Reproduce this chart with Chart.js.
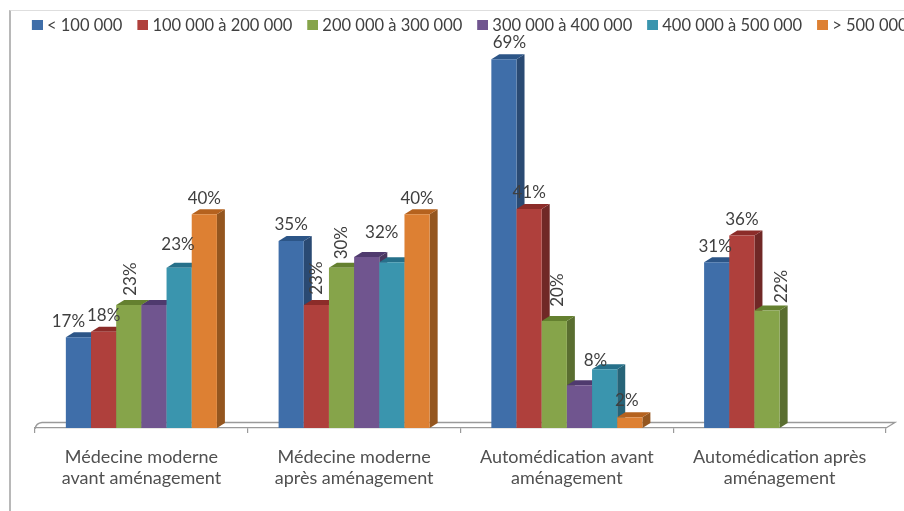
<!DOCTYPE html>
<html lang="fr">
<head>
<meta charset="utf-8">
<script src="https://cdn.jsdelivr.net/npm/chart.js@4/dist/chart.umd.min.js"></script>
<style>
html,body{margin:0;padding:0;background:#fff;width:904px;height:511px;overflow:hidden}
#wrap{position:relative;width:904px;height:511px;overflow:hidden}
#frame{position:absolute;left:9px;top:10px;right:0;bottom:0;border-left:2.5px solid #b8b8b8;border-top:1px solid #dedede}
canvas{position:absolute;left:0;top:0;filter:blur(0.4px)}
</style>
</head>
<body>
<div id="wrap">
<div id="frame"></div>
<canvas id="c" width="1000" height="511" style="width:1000px;height:511px"></canvas>
</div>
<script>
const categories = [
  ['Médecine moderne','avant aménagement'],
  ['Médecine moderne','après aménagement'],
  ['Automédication avant','aménagement'],
  ['Automédication après','aménagement']
];
const seriesNames = ['< 100 000','100 000 à 200 000','200 000 à 300 000','300 000 à 400 000','400 000 à 500 000','> 500 000'];
const under100   = [17,35,69,31];
const from100    = [18,23,41,36];
const from200    = [23,30,20,22];
const from300    = [23,32,8,null];
const from400    = [30,31,11,null];
const over500    = [40,40,2,null];
const seriesValues = [under100,from100,from200,from300,from400,over500];
const labelled = [true,true,true,true,false,true];

const frontColors = ['#3F6EA9','#AF403C','#86A44A','#70558F','#3A95AE','#DD8033'];
const topColors   = ['#2C5587','#8C2C29','#64802F','#4F3A6E','#26708A','#B5621E'];
const sideColors  = ['#2A4A73','#702826','#5A6E30','#4A385F','#276478','#94561F'];

// label placement relative to bar centre / top: [dx, dy, rotated]
const labelPlacement = [
  [[-10,-16,0],[0,-16,0],[5.5,-17,0],[-1.5,-16,0]],
  [[0,-16,0],[0,-27,1],[0,-16,0],[0,-16,0]],
  [[1.5,-26,1],[0,-25,1],[3.5,-31,1],[14.5,-24,1]],
  [[24,-61,0],[15,-24,0],[16,-25,0],null],
  [null,null,null,null],
  [[0,-16,0],[0,-16,0],[-3,-17,0],null]
];

const FONT = 'Lato, "Open Sans", sans-serif';
const DX = 8, DY = 5;

function swatch(color){
  const s = document.createElement('canvas');
  s.width = 15; s.height = 10;
  const g = s.getContext('2d');
  g.fillStyle = color; g.fillRect(4,0,11,10);
  return s;
}

const bars3d = {
  id:'bars3d',
  beforeDatasetsDraw(chart){
    const ctx = chart.ctx, x = chart.scales.x, base = chart.scales.y.getPixelForValue(0);
    ctx.save();
    ctx.strokeStyle = '#9a9a9a'; ctx.lineWidth = 1.3;
    ctx.beginPath();
    ctx.moveTo(x.left, base+1);
    ctx.quadraticCurveTo(x.left+1, base-5, x.left+7, base-5.5);
    ctx.lineTo(x.right+9, base-5.5);
    ctx.lineTo(x.right, base);
    ctx.stroke();
    chart.data.datasets.forEach((ds,i)=>{
      chart.getDatasetMeta(i).data.forEach((el,j)=>{
        if (ds.data[j]==null) return;
        const p = el.getProps(['x','y','width','base'],true);
        const l = p.x-p.width/2, r = p.x+p.width/2, t = p.y, b = p.base;
        ctx.fillStyle = sideColors[i];
        ctx.beginPath();
        ctx.moveTo(r,t); ctx.lineTo(r+DX,t-DY); ctx.lineTo(r+DX,b-DY); ctx.lineTo(r,b);
        ctx.closePath(); ctx.fill();
        ctx.fillStyle = topColors[i];
        ctx.beginPath();
        ctx.moveTo(l,t); ctx.lineTo(l+DX,t-DY); ctx.lineTo(r+DX,t-DY); ctx.lineTo(r,t);
        ctx.closePath(); ctx.fill();
        el.draw(ctx);
      });
    });
    ctx.restore();
  },
  beforeDatasetDraw(){ return false; },
  afterDatasetsDraw(chart){
    const ctx = chart.ctx;
    ctx.save();
    ctx.font = '17px '+FONT;
    ctx.fillStyle = '#3f3f3f';
    ctx.textAlign = 'center'; ctx.textBaseline = 'middle';
    chart.data.datasets.forEach((ds,i)=>{
      if (!labelled[i]) return;
      chart.getDatasetMeta(i).data.forEach((el,j)=>{
        const v = ds.data[j], pl = labelPlacement[i][j];
        if (v==null || !pl) return;
        const cx = el.x+pl[0], cy = el.y+pl[1];
        ctx.save();
        ctx.translate(cx,cy);
        if (pl[2]) ctx.rotate(-Math.PI/2);
        ctx.fillText(v+'%',0,0);
        ctx.restore();
      });
    });
    ctx.restore();
  }
};

new Chart(document.getElementById('c'),{
  type:'bar',
  data:{
    labels:categories,
    datasets:seriesNames.map((n,i)=>({
      label:n,
      data:seriesValues[i],
      backgroundColor:frontColors[i],
      categoryPercentage:0.71,
      barPercentage:1,
      borderWidth:0
    }))
  },
  options:{
    responsive:false,
    animation:false,
    devicePixelRatio:1,
    layout:{padding:{left:17,top:2,right:0,bottom:0}},
    plugins:{
      tooltip:{enabled:false},
      legend:{
        position:'top',
        align:'start',
        labels:{
          font:{family:FONT,size:16.5},
          color:'#404040',
          padding:15,
          usePointStyle:true,
          pointStyleWidth:6.75,
          boxHeight:10,
          generateLabels(chart){
            return chart.data.datasets.map((d,i)=>({
              text:d.label,
              fontColor:'#404040',
              fillStyle:frontColors[i],
              strokeStyle:frontColors[i],
              lineWidth:0,
              pointStyle:swatch(frontColors[i]),
              datasetIndex:i
            }));
          }
        }
      }
    },
    scales:{
      x:{
        grid:{display:true,offset:true,drawOnChartArea:false,tickLength:5,color:'#9a9a9a',lineWidth:1.2},
        border:{display:true,color:'#9a9a9a',width:1.3},
        ticks:{
          font:{family:FONT,size:18,lineHeight:1.17},
          color:'#505050',
          padding:14,
          maxRotation:0,minRotation:0,autoSkip:false
        },
        afterFit(s){ s.height = 83; }
      },
      y:{
        min:0,max:71.95,
        grid:{display:false},border:{display:false},
        ticks:{display:false},
        afterFit(s){ s.width = 18; }
      },
      yRight:{
        position:'right',
        display:true,
        min:0,max:1,
        grid:{display:false},border:{display:false},
        ticks:{display:false},
        afterFit(s){ s.width = 114; }
      }
    }
  },
  plugins:[bars3d]
});
</script>
</body>
</html>
